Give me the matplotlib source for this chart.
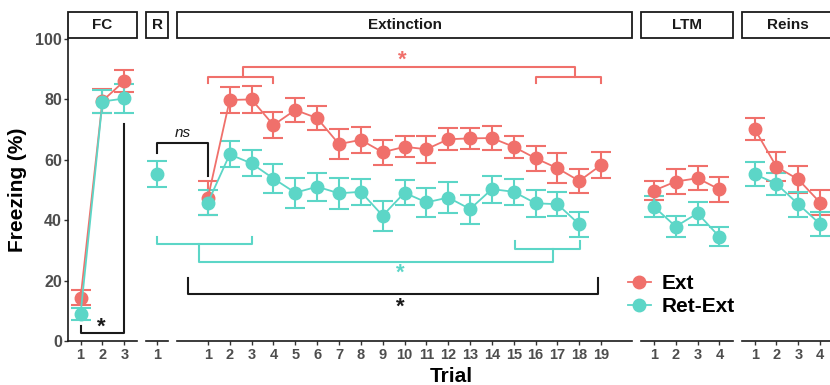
import matplotlib.pyplot as plt
from matplotlib.lines import Line2D
from matplotlib.patches import Rectangle

plt.rcParams['font.family'] = ['Liberation Sans', 'DejaVu Sans']
plt.rcParams['font.weight'] = 'bold'

EXT_COLOR = '#F0706B'
RET_COLOR = '#5CD6C7'
TXT_GRAY = '#4D4D4D'
INK = '#1A1A1A'

# --- data (mean freezing % and SEM) ---
phases = ['FC', 'R', 'Extinction', 'LTM', 'Reins']
fc_trials = [1, 2, 3]
r_trials = [1]
ext_trials_red = list(range(1, 20))
ext_trials_cyan = list(range(1, 19))
ltm_trials = [1, 2, 3, 4]
reins_trials = [1, 2, 3, 4]

fc_ext = [14.3, 79.5, 86.1]
fc_ext_sem = [2.5, 4.0, 3.6]
fc_ret = [9.0, 79.3, 80.3]
fc_ret_sem = [2.0, 3.8, 4.7]

r_ret = [55.3]
r_ret_sem = [4.3]

extinction_ext = [47.3, 79.8, 80.0, 71.5, 76.5, 73.8, 65.2, 66.6, 62.5, 64.3,
                  63.5, 66.8, 67.1, 67.2, 64.3, 60.5, 57.2, 53.0, 58.3]
extinction_ext_sem = [5.6, 4.2, 4.4, 4.4, 4.1, 4.0, 5.0, 4.3, 4.1, 3.5,
                      4.4, 3.6, 3.5, 3.9, 3.6, 4.2, 4.9, 3.9, 4.2]
extinction_ret = [45.8, 61.8, 58.8, 53.8, 49.1, 51.1, 48.9, 49.4, 41.5, 49.1,
                  45.9, 47.5, 43.7, 50.3, 49.4, 45.6, 45.3, 38.6]
extinction_ret_sem = [4.2, 4.3, 4.3, 4.9, 4.9, 4.6, 5.2, 4.3, 5.0, 4.2,
                      4.7, 5.0, 4.8, 4.5, 4.3, 4.4, 4.0, 4.1]

ltm_ext = [49.8, 52.8, 53.9, 50.2]
ltm_ext_sem = [3.2, 4.0, 4.0, 4.1]
ltm_ret = [44.5, 37.9, 42.3, 34.5]
ltm_ret_sem = [3.5, 3.5, 3.8, 3.2]

reins_ext = [70.2, 57.7, 53.5, 45.8]
reins_ext_sem = [3.7, 4.8, 4.4, 4.2]
reins_ret = [55.3, 52.0, 45.3, 38.7]
reins_ret_sem = [4.0, 3.7, 4.1, 4.0]

series = {
    'FC': [(fc_trials, fc_ext, fc_ext_sem, EXT_COLOR), (fc_trials, fc_ret, fc_ret_sem, RET_COLOR)],
    'R': [(r_trials, r_ret, r_ret_sem, RET_COLOR)],
    'Extinction': [(ext_trials_red, extinction_ext, extinction_ext_sem, EXT_COLOR),
                   (ext_trials_cyan, extinction_ret, extinction_ret_sem, RET_COLOR)],
    'LTM': [(ltm_trials, ltm_ext, ltm_ext_sem, EXT_COLOR), (ltm_trials, ltm_ret, ltm_ret_sem, RET_COLOR)],
    'Reins': [(reins_trials, reins_ext, reins_ext_sem, EXT_COLOR), (reins_trials, reins_ret, reins_ret_sem, RET_COLOR)],
}
tick_sets = {'FC': fc_trials, 'R': r_trials, 'Extinction': ext_trials_red,
             'LTM': ltm_trials, 'Reins': reins_trials}
xlims = {'FC': (0.4, 3.6), 'R': (0.5, 1.5), 'Extinction': (-0.4, 20.4),
         'LTM': (0.4, 4.6), 'Reins': (0.4, 4.6)}

# significance brackets: (color, [(phase, trial, y), ...])
brackets = [
    (INK, [('FC', 1, 5.0), ('FC', 1, 2.6), ('FC', 3, 2.6), ('FC', 3, 72.0)]),
    (INK, [('R', 1, 62.3), ('R', 1, 65.6), ('Extinction', 1, 65.6), ('Extinction', 1, 54.6)]),
    (EXT_COLOR, [('Extinction', 1, 85.4), ('Extinction', 1, 87.4), ('Extinction', 4, 87.4), ('Extinction', 4, 85.4)]),
    (EXT_COLOR, [('Extinction', 16, 85.4), ('Extinction', 16, 87.4), ('Extinction', 19, 87.4), ('Extinction', 19, 85.4)]),
    (EXT_COLOR, [('Extinction', 2.6, 87.4), ('Extinction', 2.6, 90.7), ('Extinction', 17.8, 90.7), ('Extinction', 17.8, 87.4)]),
    (RET_COLOR, [('R', 1, 34.4), ('R', 1, 32.1), ('Extinction', 3, 32.1), ('Extinction', 3, 34.6)]),
    (RET_COLOR, [('Extinction', 15.05, 33.2), ('Extinction', 15.05, 30.5), ('Extinction', 18.05, 30.5), ('Extinction', 18.05, 33.2)]),
    (RET_COLOR, [('Extinction', 0.6, 32.1), ('Extinction', 0.6, 26.2), ('Extinction', 16.8, 26.2), ('Extinction', 16.8, 30.5)]),
    (INK, [('Extinction', 0.08, 20.9), ('Extinction', 0.08, 15.6), ('Extinction', 18.85, 15.6), ('Extinction', 18.85, 20.9)]),
]
# labels: (text, phase, trial, y, color, style)
marks = [
    ('*', 'FC', 1.95, 4.7, INK, 'normal'),
    ('ns', 'Extinction', -0.15, 68.9, INK, 'italic'),
    ('*', 'Extinction', 9.9, 93.0, EXT_COLOR, 'normal'),
    ('*', 'Extinction', 9.8, 22.5, RET_COLOR, 'normal'),
    ('*', 'Extinction', 9.8, 11.3, INK, 'normal'),
]

W, H = 830, 385
fig = plt.figure(figsize=(W / 100, H / 100), dpi=100)

px_per_trial = 21.85
gap = 9.0
left = 67.5
bottom_px, top_px = 341, 39

axes = {}
for ph in phases:
    lo, hi = xlims[ph]
    width = (hi - lo) * px_per_trial
    ax = fig.add_axes([left / W, 1 - bottom_px / H, width / W, (bottom_px - top_px) / H])
    left += width + gap
    axes[ph] = ax

    for x, m, s, c in series[ph]:
        ax.errorbar(x, m, yerr=s, color=c, marker='o', ms=9, lw=1.3,
                    elinewidth=1.5, capsize=7, capthick=1.5, clip_on=False, zorder=3)

    ax.set_xlim(lo, hi)
    ax.set_ylim(0, 100)
    ax.set_xticks(tick_sets[ph])
    ax.tick_params(axis='x', length=3, width=1, color='#333333', labelsize=10.5,
                   labelcolor=TXT_GRAY, pad=2)
    for side in ['top', 'right']:
        ax.spines[side].set_visible(False)
    ax.spines['bottom'].set_linewidth(1.2)
    ax.spines['bottom'].set_color(INK)
    if ph == 'FC':
        ax.spines['left'].set_linewidth(1.2)
        ax.spines['left'].set_color(INK)
        ax.set_yticks([0, 20, 40, 60, 80, 100])
        ax.tick_params(axis='y', length=3, width=1, color='#333333', labelsize=11.5,
                       labelcolor=TXT_GRAY, pad=1)
    else:
        ax.spines['left'].set_visible(False)
        ax.set_yticks([])

    # facet strip
    y0 = (bottom_px - 38) / (bottom_px - top_px)
    y1 = (bottom_px - 12) / (bottom_px - top_px)
    ax.add_patch(Rectangle((0, y0), 1, y1 - y0, transform=ax.transAxes, facecolor='white',
                           edgecolor=INK, lw=1.3, clip_on=False))
    ax.text(0.5, (y0 + y1) / 2, ph, transform=ax.transAxes, ha='center', va='center',
            fontsize=11, color=INK)


def to_fig(ph, x, y):
    disp = axes[ph].transData.transform((x, y))
    return fig.transFigure.inverted().transform(disp)


for color, pts in brackets:
    xy = [to_fig(ph, x, y) for ph, x, y in pts]
    fig.add_artist(Line2D([p[0] for p in xy], [p[1] for p in xy], color=color, lw=1.5,
                          transform=fig.transFigure))

for txt, ph, x, y, color, style in marks:
    fx, fy = to_fig(ph, x, y)
    size = 11 if txt == 'ns' else 16
    fig.text(fx, fy, txt, color=color, fontsize=size, style=style,
             fontweight='normal' if txt == 'ns' else 'bold', ha='center', va='center')

fig.text(17.5 / W, 1 - 190 / H, 'Freezing (%)', rotation=90, ha='center', va='center',
         fontsize=15, color='black')
fig.text(451 / W, 1 - 376 / H, 'Trial', ha='center', va='center', fontsize=15, color='black')

handles = [Line2D([], [], color=EXT_COLOR, marker='o', ms=9, lw=1.3),
           Line2D([], [], color=RET_COLOR, marker='o', ms=9, lw=1.3)]
fig.legend(handles, ['Ext', 'Ret-Ext'], loc='center left', bbox_to_anchor=(628 / W, 1 - 295 / H),
           frameon=False, fontsize=15, handlelength=1.1, handletextpad=0.5,
           labelspacing=0.2, borderpad=0, borderaxespad=0)

fig.savefig('out.png', dpi=100)
